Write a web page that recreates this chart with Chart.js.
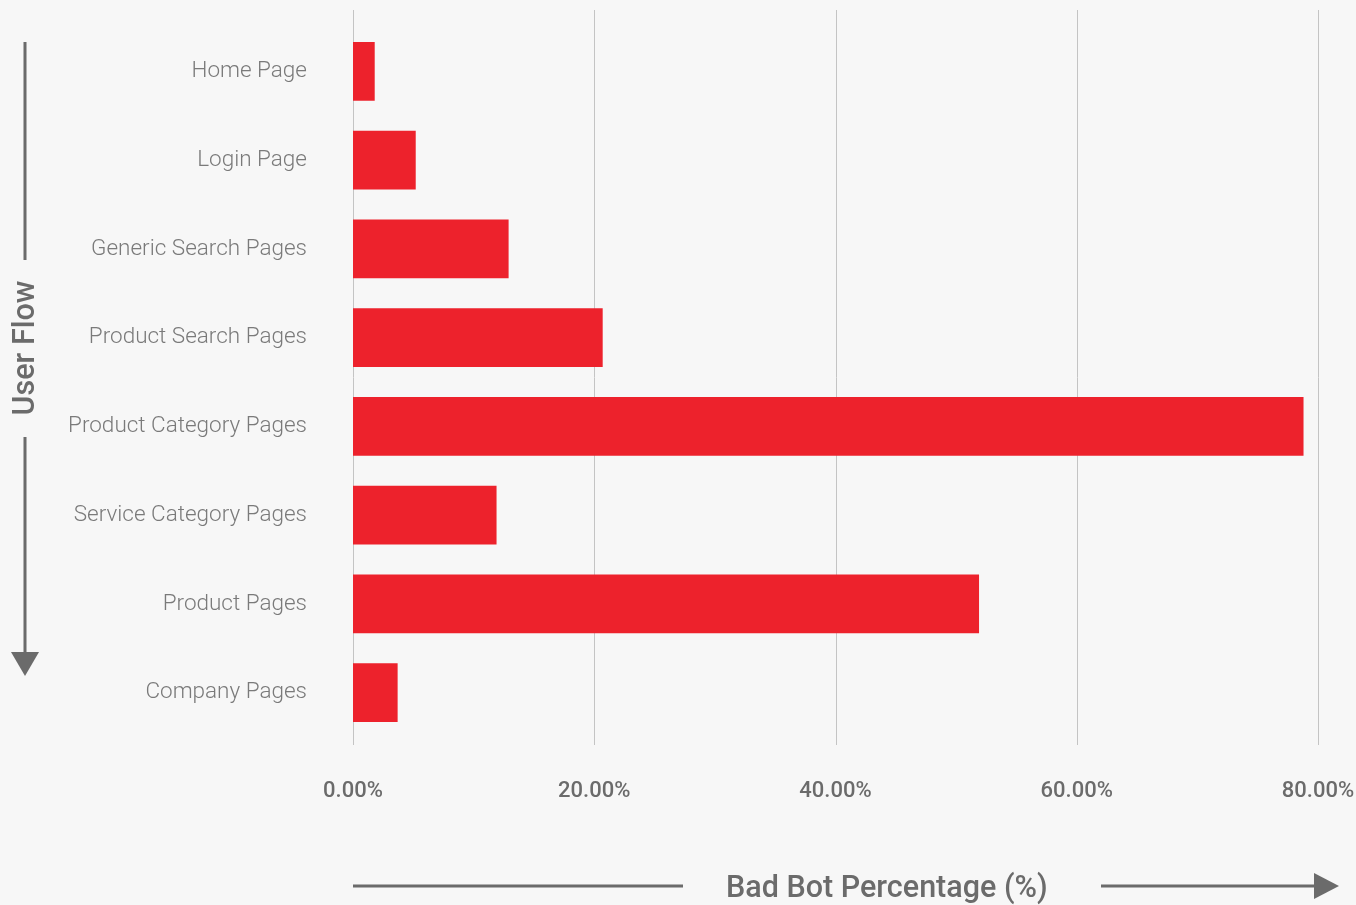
<!DOCTYPE html>
<html>
<head>
<meta charset="utf-8">
<script src="https://cdn.jsdelivr.net/npm/chart.js@4"></script>
<style>
  html, body { margin: 0; padding: 0; background: #f7f7f7; }
  #wrap { width: 1356px; height: 905px; }
</style>
</head>
<body>
<div id="wrap"><canvas id="bots"></canvas></div>
<script>
// pages in user flow order
const pages = [
    'Home Page',
    'Login Page',
    'Generic Search Pages',
    'Product Search Pages',
    'Product Category Pages',
    'Service Category Pages',
    'Product Pages',
    'Company Pages'
];
// bad bot share per page (%)
const badBotPct = [1.8, 5.2, 12.9, 20.7, 78.8, 11.9, 51.9, 3.7];
const xTicks = [0, 20, 40, 60, 80];

const gray = '#6b6b6b';

// vertical grid lines run taller than the bars
const gridPlugin = {
    id: 'tallGrid',
    beforeDatasetsDraw(chart) {
        const ctx = chart.ctx;
        const x = chart.scales.x;
        ctx.save();
        ctx.strokeStyle = '#c4c4c4';
        ctx.lineWidth = 1;
        xTicks.forEach(t => {
            const px = Math.round(x.getPixelForValue(t)) + 0.5;
            ctx.beginPath();
            ctx.moveTo(px, 10);
            ctx.lineTo(px, 745);
            ctx.stroke();
        });
        ctx.restore();
    }
};

// axis titles with arrows
const arrowPlugin = {
    id: 'arrows',
    afterDraw(chart) {
        const ctx = chart.ctx;
        ctx.save();
        ctx.strokeStyle = gray;
        ctx.fillStyle = gray;
        ctx.lineWidth = 3;

        // x title
        ctx.beginPath();
        ctx.moveTo(353, 886);
        ctx.lineTo(683, 886);
        ctx.moveTo(1101, 886);
        ctx.lineTo(1318, 886);
        ctx.stroke();
        ctx.beginPath();
        ctx.moveTo(1314, 873);
        ctx.lineTo(1339, 886);
        ctx.lineTo(1314, 899);
        ctx.closePath();
        ctx.fill();
        ctx.font = '500 30.5px Roboto';
        ctx.textAlign = 'left';
        ctx.textBaseline = 'middle';
        ctx.fillText('Bad Bot Percentage (%)', 726, 889);

        // y title
        ctx.beginPath();
        ctx.moveTo(25, 42);
        ctx.lineTo(25, 260);
        ctx.moveTo(25, 437);
        ctx.lineTo(25, 655);
        ctx.stroke();
        ctx.beginPath();
        ctx.moveTo(11, 652);
        ctx.lineTo(25, 676);
        ctx.lineTo(39, 652);
        ctx.closePath();
        ctx.fill();
        ctx.translate(25, 348);
        ctx.rotate(-Math.PI / 2);
        ctx.textAlign = 'center';
        ctx.fillText('User Flow', 0, 1);
        ctx.restore();
    }
};

new Chart(
    document.getElementById('bots'),
    {
        type: 'bar',
        data: {
            labels: pages,
            datasets: [
                {
                    label: 'Bad Bot Percentage (%)',
                    data: badBotPct,
                    backgroundColor: '#ed222c',
                    barPercentage: 0.66,
                    categoryPercentage: 1
                }
            ]
        },
        options: {
            indexAxis: 'y',
            responsive: true,
            maintainAspectRatio: false,
            animation: false,
            layout: { padding: { top: 27, right: 38, bottom: 0, left: 0 } },
            plugins: {
                legend: { display: false },
                tooltip: { enabled: false }
            },
            scales: {
                x: {
                    min: 0,
                    max: 80,
                    afterBuildTicks: s => { s.ticks = xTicks.map(v => ({ value: v })); },
                    afterFit: s => {
                        s.height = 168;
                        s.paddingLeft = 0;
                        s.paddingRight = 0;
                    },
                    grid: { display: false, drawTicks: false },
                    border: { display: false },
                    ticks: {
                        padding: 41,
                        color: gray,
                        font: { family: 'Roboto', size: 22, weight: '500' },
                        callback: v => v.toFixed(2) + '%'
                    }
                },
                y: {
                    afterFit: s => {
                        s.width = 353;
                        s.paddingTop = 0;
                        s.paddingBottom = 0;
                    },
                    grid: { display: false, drawTicks: false },
                    border: { display: false },
                    ticks: {
                        padding: 46,
                        color: '#7a7a7a',
                        font: { family: 'Roboto', size: 22.5, weight: '300' }
                    }
                }
            }
        },
        plugins: [gridPlugin, arrowPlugin]
    }
);
</script>
</body>
</html>
